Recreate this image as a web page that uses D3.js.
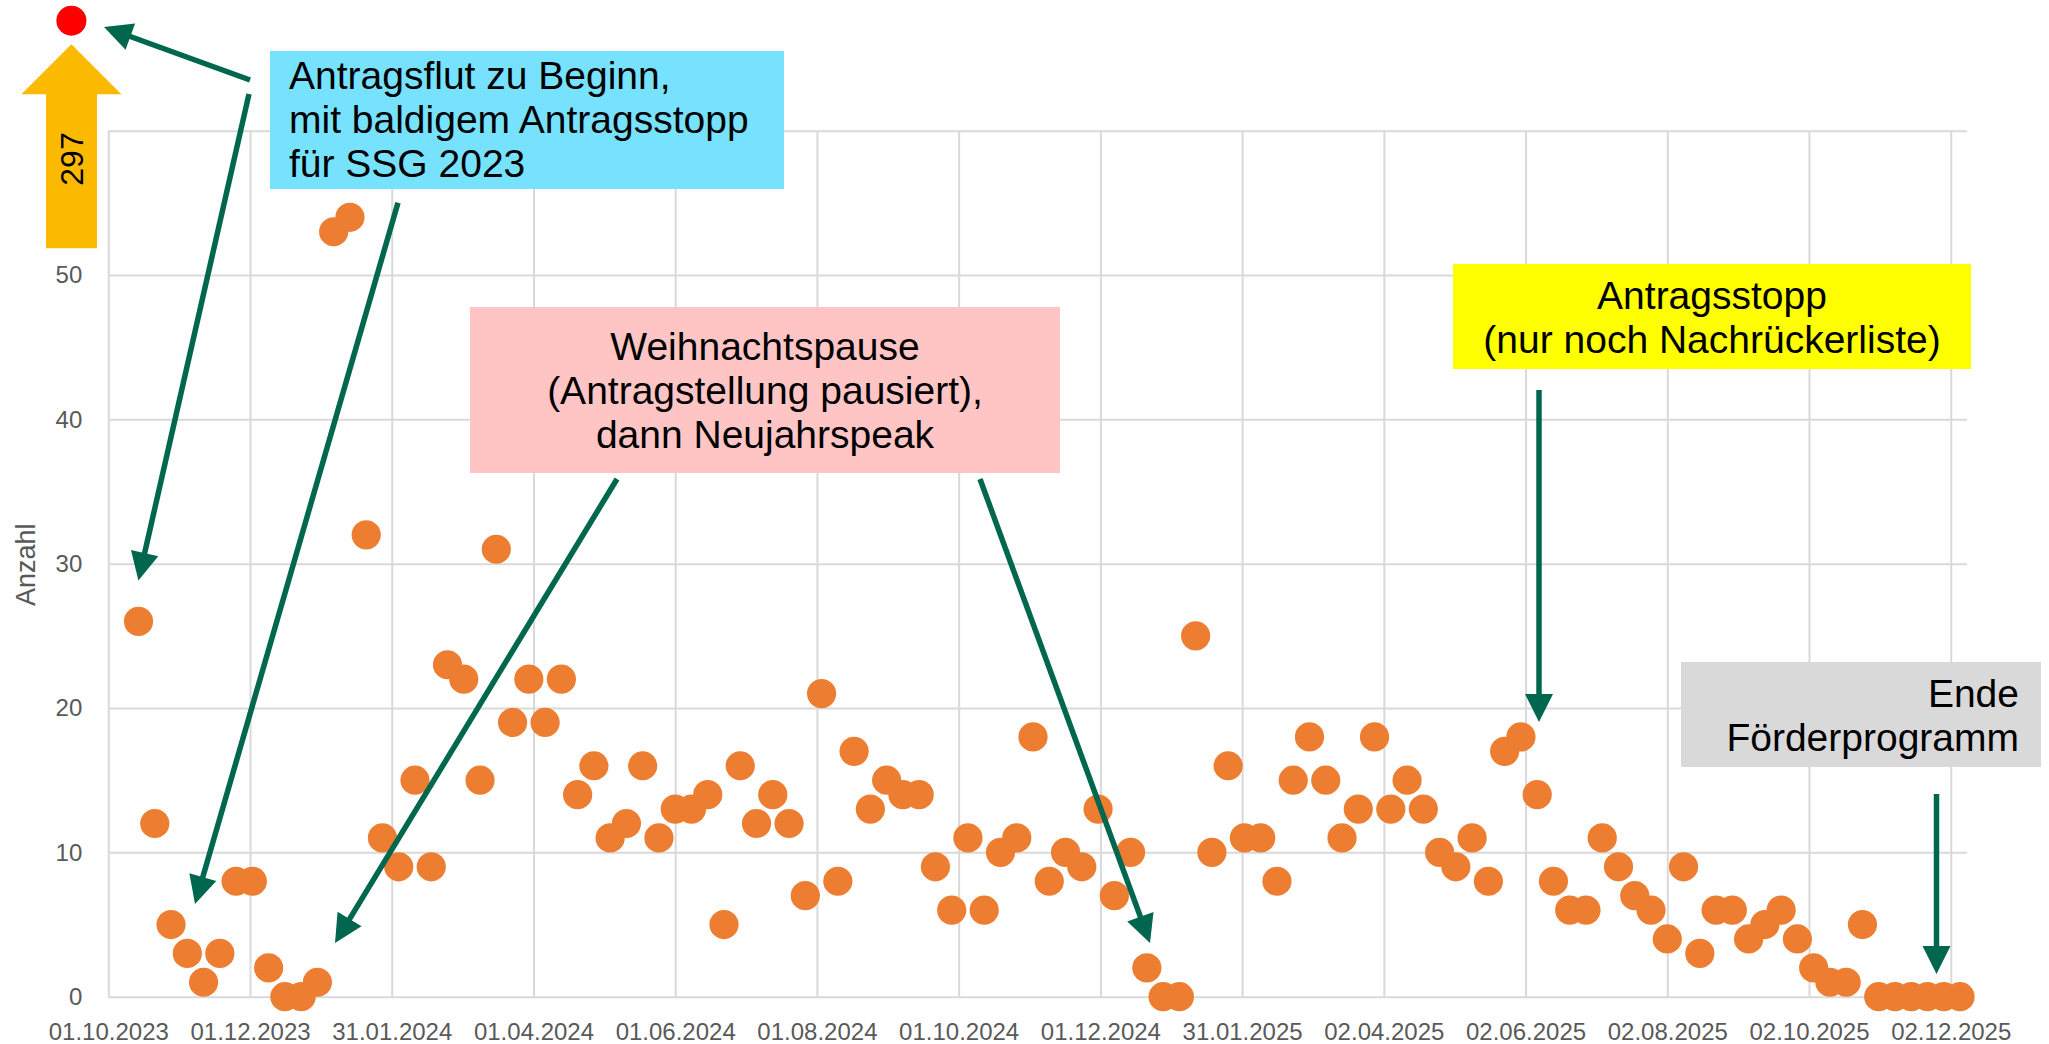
<!DOCTYPE html>
<html>
<head>
<meta charset="utf-8">
<script src="https://cdn.jsdelivr.net/npm/d3@7"></script>
<style>
  html, body { margin: 0; padding: 0; background: #fff; }
  svg { display: block; }
</style>
</head>
<body>
<div id="chart"></div>
<script>
// weekly application counts (first week in Oct 2023 drawn separately as 297)
const tickLabels = ["01.10.2023", "01.12.2023", "31.01.2024", "01.04.2024", "01.06.2024",
  "01.08.2024", "01.10.2024", "01.12.2024", "31.01.2025", "02.04.2025",
  "02.06.2025", "02.08.2025", "02.10.2025", "02.12.2025"];
const yTicks = [0, 10, 20, 30, 40, 50, 60];
const firstWeek = "14.10.2023";
const counts = [26, 12, 5, 3, 1, 3, 8, 8, 2, 0, 0, 1, 53, 54, 32, 11, 9, 15, 9, 23,
  22, 15, 31, 19, 22, 19, 22, 14, 16, 11, 12, 16, 11, 13, 13, 14, 5, 16, 12, 14,
  12, 7, 21, 8, 17, 13, 15, 14, 14, 9, 6, 11, 6, 10, 11, 18, 8, 10, 9, 13,
  7, 10, 2, 0, 0, 25, 10, 16, 11, 11, 8, 15, 18, 15, 11, 13, 18, 13, 15, 13,
  10, 9, 11, 8, 17, 18, 14, 8, 6, 6, 11, 9, 7, 6, 4, 9, 3, 6, 6, 4,
  5, 6, 4, 2, 1, 1, 5, 0, 0, 0, 0, 0, 0];
const peakCount = 297;
const yLabel = "Anzahl";

const width = 2049, height = 1044;
const margin = ({ top: 130.7, right: 82, bottom: 47.3, left: 108.3 });
const parse = d3.utcParse("%d.%m.%Y");

const tickDates = tickLabels.map(parse);
const data = counts.map((c, i) => ({ date: d3.utcDay.offset(parse(firstWeek), 7 * i), num: c }));

let svg = d3.select("#chart")
  .append("svg")
  .attr("width", width)
  .attr("height", height)
  .attr("viewBox", [0, 0, width, height]);

let x = d3.scaleUtc()
  .domain([tickDates[0], parse("09.12.2025")])
  .range([margin.left, width - margin.right]);

let y = d3.scaleLinear()
  .domain([0, 60])
  .range([height - margin.bottom, margin.top]);

const gridColor = "#D9D9D9";
const tickFont = "'Liberation Sans', Arial, sans-serif";

// horizontal grid + y labels
let yAxis = svg.append("g")
  .attr("transform", `translate(${margin.left},0)`)
  .call(d3.axisLeft(y).tickValues(yTicks)
    .tickSizeInner(-(width - margin.right - margin.left))
    .tickSizeOuter(0)
    .tickPadding(26));
yAxis.select(".domain").remove();
yAxis.selectAll("line").attr("stroke", gridColor).attr("stroke-width", 2);
yAxis.selectAll("text")
  .attr("fill", "#595959")
  .style("font-family", tickFont)
  .style("font-size", "24px");

// vertical grid + date labels
let xAxis = svg.append("g")
  .attr("transform", `translate(0,${height - margin.bottom})`)
  .call(d3.axisBottom(x).tickValues(tickDates)
    .tickFormat(d3.utcFormat("%d.%m.%Y"))
    .tickSizeInner(-(height - margin.bottom - margin.top))
    .tickSizeOuter(0)
    .tickPadding(26));
xAxis.select(".domain").remove();
xAxis.selectAll("line").attr("stroke", gridColor).attr("stroke-width", 2);
xAxis.selectAll("text")
  .attr("fill", "#595959")
  .style("font-family", tickFont)
  .style("font-size", "24px");

svg.append("text")
  .attr("transform", `translate(26,${y(30) + 1}) rotate(-90)`)
  .attr("text-anchor", "middle")
  .attr("dy", "0.35em")
  .attr("fill", "#595959")
  .style("font-family", tickFont)
  .style("font-size", "27px")
  .text(yLabel);

// dots
svg.append("g")
  .selectAll("circle")
  .data(data)
  .join("circle")
  .attr("cx", d => x(d.date))
  .attr("cy", d => y(d.num))
  .attr("r", 14.6)
  .attr("fill", "#ED7D31");

// ---- annotations ----
const green = "#00674F";
const annFont = "'Liberation Sans', Arial, sans-serif";

function arrow(x1, y1, x2, y2) {
  const dx = x2 - x1, dy = y2 - y1, len = Math.hypot(dx, dy);
  const ux = dx / len, uy = dy / len, hl = 28, hw = 14;
  const bx = x2 - ux * hl, by = y2 - uy * hl;
  svg.append("line")
    .attr("x1", x1).attr("y1", y1)
    .attr("x2", bx + ux * 3).attr("y2", by + uy * 3)
    .attr("stroke", green).attr("stroke-width", 5.5);
  svg.append("path")
    .attr("d", `M${x2},${y2}L${bx - uy * hw},${by + ux * hw}L${bx + uy * hw},${by - ux * hw}Z`)
    .attr("fill", green);
}

function box(bx, by, bw, bh, fill, lines, anchor, tx, ty0) {
  svg.append("rect")
    .attr("x", bx).attr("y", by).attr("width", bw).attr("height", bh)
    .attr("fill", fill);
  let t = svg.append("text")
    .attr("text-anchor", anchor)
    .style("font-family", annFont)
    .style("font-size", "39px")
    .attr("fill", "#000");
  lines.forEach((l, i) => {
    t.append("tspan").attr("x", tx).attr("y", ty0 + i * 44).text(l);
  });
}

// peak marker: orange arrow with 297 and red dot
svg.append("path")
  .attr("d", "M71.4,44.3L121.4,94.3L97,94.3L97,248.3L46,248.3L46,94.3L21.4,94.3Z")
  .attr("fill", "#FBBA00");
svg.append("text")
  .attr("transform", "translate(71.4,159) rotate(-90)")
  .attr("text-anchor", "middle")
  .attr("dy", "0.36em")
  .style("font-family", tickFont)
  .style("font-size", "32px")
  .attr("fill", "#000")
  .text(peakCount);
svg.append("circle")
  .attr("cx", 71.4).attr("cy", 20.7).attr("r", 15)
  .attr("fill", "#FF0000");

box(270, 51, 514, 138, "#76E2FE",
  ["Antragsflut zu Beginn,", "mit baldigem Antragsstopp", "für SSG 2023"], "start", 289, 89);
arrow(250, 80, 104, 27);
arrow(249, 94, 138.4, 580.5);
arrow(398, 202.7, 195, 904);

box(470, 307, 590, 166, "#FFC5C5",
  ["Weihnachtspause", "(Antragstellung pausiert),", "dann Neujahrspeak"], "middle", 765, 360);
arrow(617, 479, 335, 943);
arrow(980, 479, 1150, 943);

box(1453, 264, 518, 105, "#FFFF00",
  ["Antragsstopp", "(nur noch Nachrückerliste)"], "middle", 1712, 309);
arrow(1539, 390, 1539, 722);

box(1681, 662, 360, 105, "#D9D9D9",
  ["Ende", "Förderprogramm"], "end", 2019, 707);
arrow(1936.5, 794, 1936.5, 974);
</script>
</body>
</html>
